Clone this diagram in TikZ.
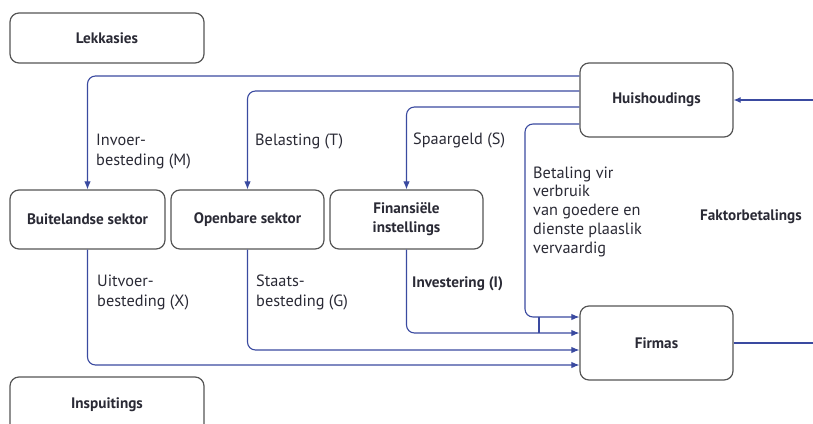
\documentclass[tikz,border=0pt]{standalone}
\usepackage{fontspec}
\setmainfont{PT Sans}
\usetikzlibrary{arrows.meta,calc}
\definecolor{flowblue}{HTML}{3A4AA0}
\definecolor{boxgray}{HTML}{555555}
\definecolor{txt}{HTML}{2A2A35}
\tikzset{
  box/.style={draw=boxgray,line width=1.2pt,rounded corners=9pt,inner sep=0pt,
    font=\fontsize{15.2}{19}\selectfont\bfseries,text=txt,align=center},
  flow/.style={draw=flowblue,line width=1.1pt,rounded corners=8pt},
  arr/.style={-{Latex[length=8pt,width=6.5pt]}},
  lbl/.style={anchor=base west,inner sep=0pt,align=left,text=txt,
    font=\fontsize{16.3}{20}\selectfont},
  lbltight/.style={lbl,font=\fontsize{16.3}{18.75}\selectfont},
  blbl/.style={lbl,font=\fontsize{15.2}{19}\selectfont\bfseries}
}
\begin{document}
\begin{tikzpicture}[x=1pt,y=-1pt]
\useasboundingbox (0,0) rectangle (813,423);
% boxes
\node[box,minimum width=194pt,minimum height=50pt] (lek) at (107,38) {Lekkasies};
\node[box,minimum width=153pt,minimum height=74pt] (huis) at (656.5,100) {Huishoudings};
\node[box,minimum width=155pt,minimum height=59pt] (buit) at (87.5,219.5) {Buitelandse sektor};
\node[box,minimum width=153pt,minimum height=59pt] (open) at (247.5,219.5) {Openbare sektor};
\node[box,minimum width=153pt,minimum height=59pt] (fin) at (406.5,219.5) {Finansiële\\instellings};
\node[box,minimum width=153pt,minimum height=74pt] (firm) at (656.5,343) {Firmas};
\node[box,minimum width=194pt,minimum height=56pt] (insp) at (107,405) {Inspuitings};
% helper coordinates
\coordinate (bx) at (525,0);
\coordinate (tx) at (539,0);
\coordinate (edge) at (820,0);
\coordinate (f1) at ([yshift=26pt]firm.west);
\coordinate (f2) at ([yshift=10pt]firm.west);
\coordinate (f3) at ([yshift=-7pt]firm.west);
\coordinate (f4) at ([yshift=-22pt]firm.west);
% flows from households
\draw[flow,arr] ([yshift=24pt]huis.west) -| (buit.north);
\draw[flow,arr] ([yshift=9pt]huis.west) -| (open.north);
\draw[flow,arr] ([yshift=-7pt]huis.west) -| (fin.north);
\draw[flow,arr] ([yshift=-24pt]huis.west) -| (bx |- f1) -- (f1);
% flows to firms
\draw[flow,arr] (fin.south) |- (f2);
\draw[flow,arr] (open.south) |- (f3);
\draw[flow,arr] (buit.south) |- (f4);
\draw[flow] (tx |- f1) -- (tx |- f2);
% factor payments loop
\draw[flow] (firm.east) -- (firm.east -| edge);
\draw[flow,-{Latex[length=7pt,width=6pt]}] (huis.east -| edge) -- (huis.east);
% labels (multi-line: base = last line)
\node[lbl] (lm) at (96,165) {Invoer-\\besteding (M)};
\node[lbl] (lt) at (255,145) {Belasting (T)};
\node[lbl] (ls) at (413,144) {Spaargeld (S)};
\node[lbltight] (lb) at (533,253) {Betaling vir\\verbruik\\van goedere en\\dienste plaaslik\\vervaardig};
\node[blbl] (lf) at (700,220) {Faktorbetalings};
\node[lbl] (lx) at (97,306) {Uitvoer-\\besteding (X)};
\node[lbl] (lg) at (256,306) {Staats-\\besteding (G)};
\node[blbl] (li) at (412,287) {Investering (I)};
\end{tikzpicture}
\end{document}
